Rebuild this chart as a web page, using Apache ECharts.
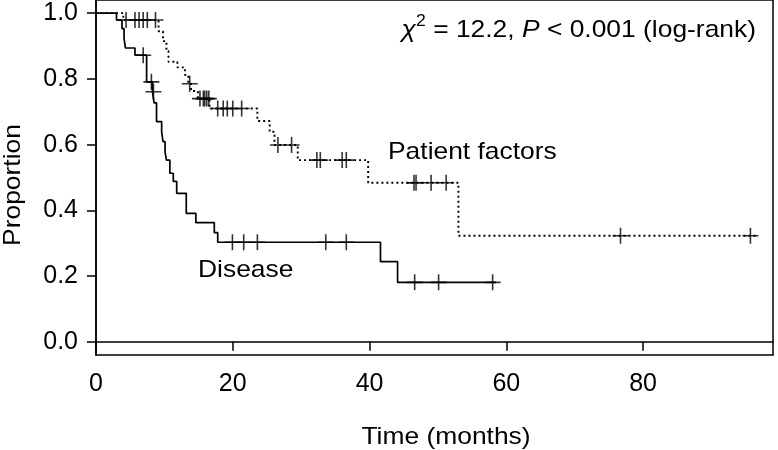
<!DOCTYPE html>
<html>
<head>
<meta charset="utf-8">
<script src="https://cdn.jsdelivr.net/npm/echarts@6/dist/echarts.min.js"></script>
<style>html,body{margin:0;padding:0;background:#fff;}#c{width:778px;height:450px;}</style>
</head>
<body>
<div id="c"></div>
<script>
// Disease group: step times (months) and survival after each step
var disTime = [0, 3.0, 3.8, 4.1, 4.3, 5.7, 7.4, 8.25, 8.5, 8.85, 9.6, 9.8, 10.1, 10.3, 10.8, 11.3, 11.8, 13.2, 14.6, 17.3, 17.8, 41.6, 44.1, 58.5];
var disSurv = [1.0, 0.979, 0.953, 0.923, 0.894, 0.872, 0.791, 0.761, 0.727, 0.670, 0.639, 0.609, 0.578, 0.553, 0.513, 0.488, 0.452, 0.391, 0.363, 0.332, 0.303, 0.244, 0.181, 0.181];
var disCensor = [6.9, 8.1, 8.4, 19.95, 21.6, 23.6, 33.6, 36.6, 46.6, 50.1, 58.0];

// Patient factors group
var patTime = [0, 4.0, 9.15, 9.8, 10.3, 10.6, 11.9, 13.0, 13.5, 13.9, 14.9, 16.6, 23.6, 25.4, 26.1, 29.5, 39.8, 53.0, 96.7];
var patSurv = [1.0, 0.979, 0.945, 0.915, 0.885, 0.852, 0.835, 0.812, 0.785, 0.763, 0.740, 0.710, 0.672, 0.639, 0.599, 0.553, 0.484, 0.323, 0.323];
var patCensor = [4.4, 5.7, 6.3, 6.9, 7.5, 8.7, 13.7, 15.2, 15.7, 15.9, 16.2, 16.5, 17.8, 18.6, 19.2, 20.0, 21.3, 26.6, 28.6, 32.3, 32.8, 36.0, 36.6, 46.5, 46.8, 49.0, 51.2, 76.7, 95.7];

var yTicks = [0, 0.2, 0.4, 0.6, 0.8, 1.0];
var xTicks = [0, 20, 40, 60, 80];

function curve(t, s) { return t.map(function (v, i) { return [v, s[i]]; }); }
function survAt(t, s, x) {
  var v = s[0];
  for (var i = 0; i < t.length; i++) { if (t[i] <= x) v = s[i]; }
  return v;
}
function marks(t, s, c) { return c.map(function (x) { return [x, survAt(t, s, x)]; }); }

var plus = 'path://M-1,-0.1L1,-0.1L1,0.1L-1,0.1ZM-0.1,-1L0.1,-1L0.1,1L-0.1,1Z';
var FONT = 'Liberation Sans';
var FS = 24;
var SX = 1.1;

var chart = echarts.init(document.getElementById('c'), null, {renderer: 'canvas'});
chart.setOption({
  animation: false,
  backgroundColor: '#fff',
  grid: {left: 96, right: 5, top: 0, bottom: 95, containLabel: false, outerBoundsMode: 'none',
    show: true, borderColor: '#000', borderWidth: 1.5, backgroundColor: 'transparent'},
  xAxis: {
    type: 'value', min: 0, max: 99,
    axisLine: {show: true, lineStyle: {color: '#000', width: 1.5}},
    axisTick: {show: true, length: 9, lineStyle: {color: '#000', width: 1.5}, customValues: xTicks},
    axisLabel: {fontFamily: FONT, fontSize: 25, color: '#000', margin: 17, customValues: xTicks},
    splitLine: {show: false}
  },
  yAxis: {
    type: 'value', min: -0.04, max: 1.04,
    axisLine: {show: true, lineStyle: {color: '#000', width: 1.5}},
    axisTick: {show: true, length: 9, lineStyle: {color: '#000', width: 1.5}, customValues: yTicks},
    axisLabel: {fontFamily: FONT, fontSize: 25, color: '#000', margin: 18, customValues: yTicks,
      formatter: function (v) { return v.toFixed(1); }},
    splitLine: {show: false}
  },
  series: [
    {type: 'line', step: 'end', data: curve(disTime, disSurv), showSymbol: false,
      lineStyle: {color: '#000', width: 1.7}},
    {type: 'line', step: 'end', data: curve(patTime, patSurv), showSymbol: false,
      lineStyle: {color: '#000', width: 1.9, type: [2, 3]}},
    {type: 'scatter', data: marks(disTime, disSurv, disCensor), symbol: plus, symbolSize: 16,
      itemStyle: {color: '#000'}},
    {type: 'scatter', data: marks(patTime, patSurv, patCensor), symbol: plus, symbolSize: 16,
      itemStyle: {color: '#000'}}
  ],
  graphic: [
    {type: 'text', x: 446, y: 437, scaleX: SX, style: {text: 'Time (months)', fontFamily: FONT, fontSize: FS, fill: '#000', align: 'center', verticalAlign: 'middle'}},
    {type: 'text', x: 13, y: 185, rotation: Math.PI / 2, scaleX: SX, style: {text: 'Proportion', fontFamily: FONT, fontSize: FS, fill: '#000', align: 'center', verticalAlign: 'middle'}},
    {type: 'text', x: 388, y: 152, scaleX: SX, style: {text: 'Patient factors', fontFamily: FONT, fontSize: FS, fill: '#000', verticalAlign: 'middle'}},
    {type: 'text', x: 198, y: 270, scaleX: SX, style: {text: 'Disease', fontFamily: FONT, fontSize: FS, fill: '#000', verticalAlign: 'middle'}},
    {type: 'text', x: 756, y: 30, scaleX: SX, style: {
      text: '{i|\u03c7}{sup|2}{n| = 12.2, }{i|P}{n| < 0.001 (log-rank)}',
      align: 'right', verticalAlign: 'middle',
      rich: {
        i: {fontFamily: FONT, fontSize: FS, fontStyle: 'italic', fill: '#000'},
        n: {fontFamily: FONT, fontSize: FS, fill: '#000'},
        sup: {fontFamily: FONT, fontSize: 16, fill: '#000', padding: [0, 0, 16, 0]}
      }
    }}
  ]
});
</script>
</body>
</html>
